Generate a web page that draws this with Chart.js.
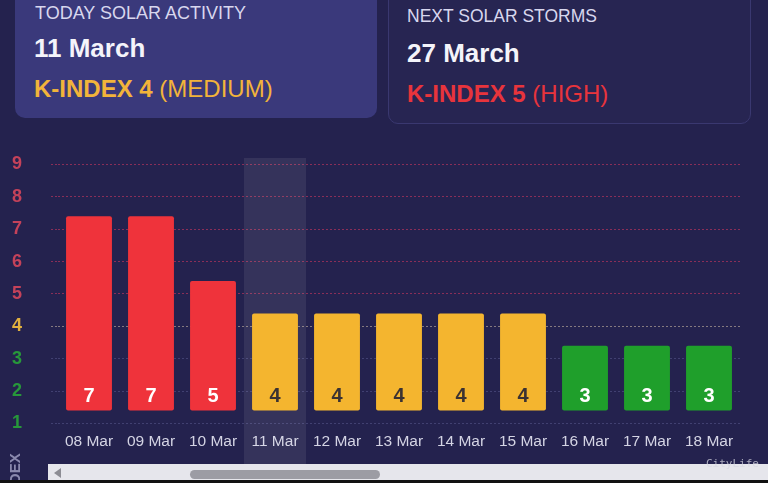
<!DOCTYPE html>
<html>
<head>
<meta charset="utf-8">
<script src="https://cdn.jsdelivr.net/npm/chart.js"></script>
<style>
  html, body { margin: 0; padding: 0; }
  body { width: 768px; height: 483px; background: #24224e; position: relative; overflow: hidden;
         font-family: "Liberation Sans", Arial, Helvetica, sans-serif; }
  .card { position: absolute; border-radius: 10px; }
  #today { left: 15px; top: -12px; width: 362px; height: 130px; background: #3a397b; }
  #next { left: 388px; top: -12px; width: 361px; height: 134px; background: #272552; border: 1px solid #3a3870; }
  .txt { position: absolute; white-space: nowrap; line-height: 1; }
  .lbl { color: #d8d7ee; }
  .date { color: #f4f4fa; font-weight: bold; font-size: 26px; }
  .b { font-weight: bold; }
  #chartBox { position: absolute; left: 0; top: 140px; width: 768px; height: 325px; }
  #scroll { position: absolute; left: 48px; top: 464px; width: 720px; height: 16px; background: #e6e6ec; }
  #thumb { position: absolute; left: 142px; top: 6px; width: 190px; height: 9px; background: #9c9ca4; border-radius: 5px; }
  #arrow { position: absolute; left: 6px; top: 4px; width: 0; height: 0;
           border-top: 5px solid transparent; border-bottom: 5px solid transparent; border-right: 7px solid #8c8c94; }
  #bottomBar { position: absolute; left: 0; top: 480px; width: 768px; height: 3px; background: #111; }
  #yTitle { position: absolute; left: 7px; top: 515px; transform: rotate(-90deg); transform-origin: left top;
            color: #8a89ad; font-size: 15px; font-weight: bold; line-height: 1; }
  #mark { position: absolute; left: 706px; top: 457px; font-family: "DejaVu Sans Mono", monospace;
          font-size: 11px; color: rgba(215,215,225,0.75); }
</style>
</head>
<body>
<div class="card" id="today"></div>
<div class="card" id="next"></div>

<div class="txt lbl" style="left:35px; top:4px; font-size:18px;">TODAY SOLAR ACTIVITY</div>
<div class="txt date" style="left:34px; top:35px;">11 March</div>
<div class="txt" style="left:34px; top:77px; font-size:24px; color:#f2b43a;"><span class="b">K-INDEX 4</span> (MEDIUM)</div>

<div class="txt lbl" style="left:407px; top:8px; font-size:17.5px;">NEXT SOLAR STORMS</div>
<div class="txt date" style="left:407px; top:40px;">27 March</div>
<div class="txt" style="left:407px; top:82px; font-size:24px; color:#e8343c;"><span class="b">K-INDEX 5</span> (HIGH)</div>

<div id="chartBox"><canvas id="chart"></canvas></div>
<div id="yTitle">K-INDEX</div>
<div id="scroll"><div id="arrow"></div><div id="thumb"></div></div>
<div id="bottomBar"></div>
<div id="mark">CityLife</div>

<script>
// data
const days = ["08 Mar", "09 Mar", "10 Mar", "11 Mar", "12 Mar", "13 Mar", "14 Mar", "15 Mar", "16 Mar", "17 Mar", "18 Mar"];
const kIndex = [7, 7, 5, 4, 4, 4, 4, 4, 3, 3, 3];
const yTicks = [1, 2, 3, 4, 5, 6, 7, 8, 9];
const todayIndex = 3;

function barColor(v) {
    if (v >= 5) return "#ef333b";
    if (v == 4) return "#f4b52f";
    return "#1f9f2b";
}
function tickColor(v) {
    if (v >= 5) return "#c4425a";
    if (v == 4) return "#e2b13f";
    return "#27983a";
}
function gridColor(v) {
    if (v >= 5) return "rgba(205,55,95,0.6)";
    if (v == 4) return "rgba(230,210,175,0.5)";
    return "rgba(120,120,180,0.35)";
}

// highlight column for today + numbers inside the bars
const extras = {
    id: "extras",
    beforeDatasetsDraw(chart) {
        const {ctx, chartArea, scales} = chart;
        const x = scales.x.getPixelForValue(todayIndex);
        const w = scales.x.width / days.length;
        ctx.save();
        ctx.fillStyle = "rgba(255,255,255,0.08)";
        ctx.fillRect(x - w / 2, chartArea.top, w, chart.height - chartArea.top);
        ctx.restore();
    },
    afterDatasetsDraw(chart) {
        const ctx = chart.ctx;
        const meta = chart.getDatasetMeta(0);
        ctx.save();
        ctx.font = "bold 20px 'Liberation Sans', Arial, sans-serif";
        ctx.textAlign = "center";
        ctx.textBaseline = "middle";
        meta.data.forEach((bar, i) => {
            ctx.fillStyle = kIndex[i] == 4 ? "#3b3232" : "#ffffff";
            ctx.fillText(kIndex[i], bar.x, bar.base - 14);
        });
        ctx.restore();
    }
};

new Chart("chart", {
    type: "bar",
    data: {
        labels: days,
        datasets: [{
            data: kIndex,
            yAxisID: "yb",
            base: 1,
            backgroundColor: kIndex.map(barColor),
            barPercentage: 0.74,
            categoryPercentage: 1,
            borderRadius: 2,
            borderSkipped: false
        }]
    },
    options: {
        responsive: true,
        maintainAspectRatio: false,
        animation: false,
        events: [],
        layout: { padding: { top: 18, right: 28, left: 12, bottom: 0 } },
        plugins: { legend: { display: false }, tooltip: { enabled: false } },
        scales: {
            x: {
                grid: { display: false, drawTicks: false },
                border: { display: false },
                ticks: {
                    color: "#d4d4e4",
                    font: { size: 15.5, family: "'Liberation Sans', Arial, sans-serif" },
                    padding: 2
                },
                afterFit: s => { s.height = 35; }
            },
            y: {
                position: "left",
                min: 0.8,
                max: 9.2,
                afterBuildTicks: s => { s.ticks = yTicks.map(v => ({ value: v })); },
                ticks: {
                    color: ctx => tickColor(ctx.tick.value),
                    font: { size: 18, weight: "bold", family: "'Liberation Sans', Arial, sans-serif" },
                    crossAlign: "far",
                    padding: 0
                },
                grid: {
                    color: ctx => gridColor(ctx.tick.value),
                    tickColor: ctx => gridColor(ctx.tick.value),
                    drawTicks: true,
                    tickLength: 7,
                    tickBorderDash: [2, 2],
                    lineWidth: 1
                },
                border: { display: false, dash: [2, 2] },
                afterFit: s => { s.width = 46; }
            },
            yb: {
                display: false,
                min: 0.4,
                max: 8.8,
                grid: { display: false }
            }
        }
    },
    plugins: [extras]
});
</script>
</body>
</html>
